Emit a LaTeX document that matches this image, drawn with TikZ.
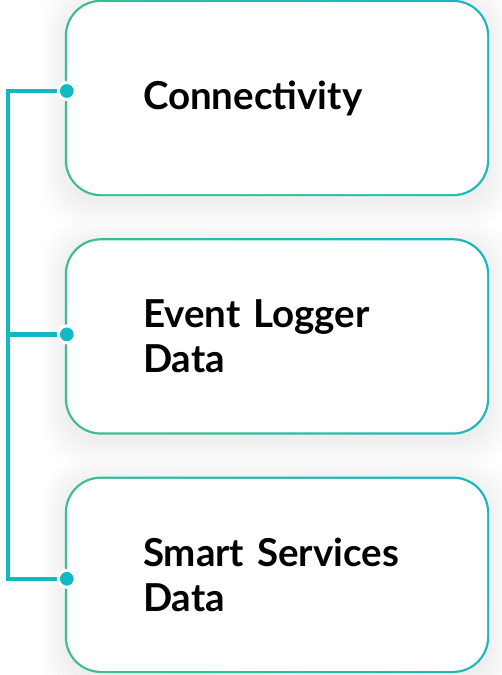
\documentclass[tikz,border=0pt]{standalone}
\usepackage{fontspec}
\setmainfont{Lato}
\usepackage{tikz}
\usetikzlibrary{positioning,backgrounds}

\definecolor{lineteal}{HTML}{12B9C4}
\definecolor{edgegreen}{HTML}{3DBF8D}
\definecolor{edgeteal}{HTML}{17B7C1}

\tikzset{
  card/.style={rectangle,rounded corners=34pt,fill=white,minimum width=420pt,minimum height=192pt,
    text width=268pt,align=left,inner sep=0pt,font=\fontsize{38.5}{45}\selectfont\bfseries},
  link/.style={lineteal,line width=4.5pt},
  dot/.style={circle,fill=lineteal,draw=white,line width=3pt,minimum size=17pt,inner sep=0pt}
}

\begin{document}
\begin{tikzpicture}[x=1pt,y=1pt,node distance=46pt]
  \useasboundingbox (0,0) rectangle (502,-675);
  \node[card] (conn) at (277,-98) {Connectivity};
  \node[card,below=of conn] (event) {Event Logger\\Data};
  \node[card,below=of event] (smart) {Smart Services\\Data};
  % soft shadow and gradient outline behind each card
  \begin{scope}[on background layer]
    \foreach \n in {conn,event,smart}{
      \foreach \s in {3,6,...,24}
        \fill[black,opacity=0.007,rounded corners=40pt]
          ([shift={(-\s pt,\s pt-4pt)}]\n.north west) rectangle ([shift={(\s pt,-\s pt-8pt)}]\n.south east);
      \shade[rounded corners=36pt,left color=edgegreen,right color=edgeteal,shading angle=125]
        ([shift={(-2pt,2pt)}]\n.north west) rectangle ([shift={(2pt,-2pt)}]\n.south east);
    }
  \end{scope}
  \coordinate (conn-in) at ([yshift=7pt]conn.west);
  \coordinate (event-in) at ([yshift=2pt]event.west);
  \coordinate (smart-in) at ([yshift=-4pt]smart.west);
  \draw[link] (conn-in) -- ++(-59,0) |- (smart-in);
  \draw[link] (event-in) -- ++(-59,0);
  \foreach \n in {conn,event,smart}
    \node[dot] at (\n-in) {};
\end{tikzpicture}
\end{document}
